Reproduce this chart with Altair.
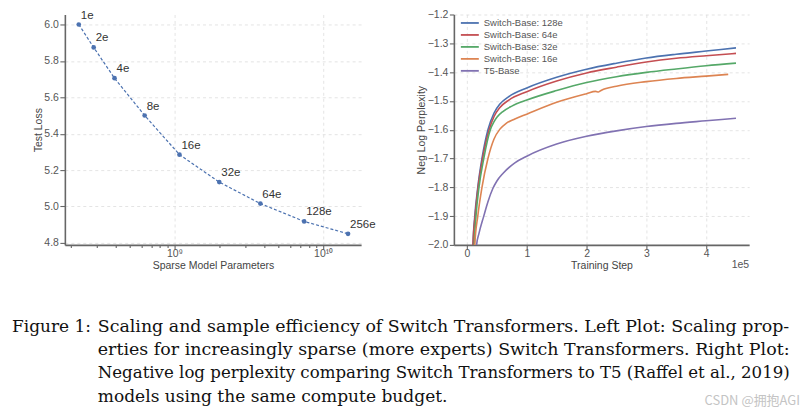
import altair as alt
import pandas as pd

# ---------------- Left plot data ----------------
experts = ["1e", "2e", "4e", "8e", "16e", "32e", "64e", "128e", "256e"]
params = [2.27e8, 2.86e8, 3.95e8, 6.3e8, 1.08e9, 2.0e9, 3.78e9, 7.45e9, 1.47e10]
test_loss = [6.0, 5.874, 5.705, 5.50, 5.285, 5.134, 5.016, 4.918, 4.85]
left_x_ticks = [2e8, 3e8, 4e8, 5e8, 6e8, 7e8, 8e8, 9e8, 1e9,
                2e9, 3e9, 4e9, 5e9, 6e9, 7e9, 8e9, 9e9, 1e10]
left_y_ticks = [4.8, 5.0, 5.2, 5.4, 5.6, 5.8, 6.0]

# ---------------- Right plot data (steps in units of 1e5) ----------------
series_names = ["Switch-Base: 128e", "Switch-Base: 64e", "Switch-Base: 32e",
                "Switch-Base: 16e", "T5-Base"]
series_colors = ["#4C72B0", "#C44E52", "#55A868", "#DD8452", "#8172B2"]

steps_128 = [0.09, 0.10, 0.13, 0.18, 0.25, 0.35, 0.45, 0.55, 0.7, 1.0, 1.5, 2.0, 2.5, 3.0, 3.5, 4.0, 4.5]
vals_128 = [-2.1, -2.0, -1.9, -1.8, -1.7, -1.6, -1.543, -1.511, -1.485, -1.455, -1.418, -1.39, -1.369, -1.351, -1.338, -1.327, -1.316]
steps_64 = [0.09, 0.10, 0.135, 0.185, 0.26, 0.37, 0.45, 0.55, 0.7, 1.0, 1.5, 2.0, 2.5, 3.0, 3.5, 4.0, 4.5]
vals_64 = [-2.1, -2.0, -1.9, -1.8, -1.7, -1.6, -1.555, -1.523, -1.497, -1.468, -1.431, -1.403, -1.383, -1.365, -1.352, -1.343, -1.335]
steps_32 = [0.105, 0.12, 0.15, 0.2, 0.28, 0.39, 0.45, 0.5, 0.6, 0.75, 1.0, 1.5, 2.0, 2.5, 3.0, 3.5, 4.0, 4.5]
vals_32 = [-2.1, -2.0, -1.9, -1.8, -1.7, -1.6, -1.573, -1.557, -1.537, -1.518, -1.497, -1.464, -1.436, -1.416, -1.401, -1.389, -1.378, -1.369]
steps_16 = [0.12, 0.13, 0.18, 0.25, 0.35, 0.45, 0.55, 0.65, 0.8, 1.0, 1.5, 2.0, 2.15, 2.2, 2.25, 2.5, 3.0, 3.5, 4.0, 4.37]
vals_16 = [-2.1, -2.0, -1.9, -1.8, -1.7, -1.633, -1.598, -1.579, -1.563, -1.546, -1.505, -1.475, -1.467, -1.469, -1.463, -1.449, -1.433, -1.422, -1.414, -1.408]
steps_t5 = [0.15, 0.16, 0.2, 0.28, 0.35, 0.43, 0.5, 0.6, 0.8, 1.0, 1.5, 2.0, 2.5, 3.0, 3.5, 4.0, 4.5]
vals_t5 = [-2.1, -2.0, -1.96, -1.9, -1.85, -1.805, -1.778, -1.752, -1.715, -1.692, -1.65, -1.623, -1.604, -1.589, -1.578, -1.569, -1.56]
right_x_ticks = [0, 1, 2, 3, 4]
right_y_ticks = [-2.0, -1.9, -1.8, -1.7, -1.6, -1.5, -1.4, -1.3, -1.2]

caption_label = "Figure 1:"
caption_lines = [
    "Scaling and sample efficiency of Switch Transformers. Left Plot: Scaling prop-",
    "erties for increasingly sparse (more experts) Switch Transformers. Right Plot:",
    "Negative log perplexity comparing Switch Transformers to T5 (Raffel et al., 2019)",
    "models using the same compute budget.",
]
watermark = "CSDN @拥抱AGI"

# styles (kept apart from data)
FONT = "Liberation Sans"
SERIF = "DejaVu Serif"
BLUE = "#4C72B0"
caption_sizes = [17.45, 17.5, 16.65, 17.1]   # per-line size to mimic justified width
caption_line_h = 23.4

# ---------------- Left chart ----------------
left_df = pd.DataFrame({"experts": experts, "params": params, "loss": test_loss})

is_decade = "abs(log(datum.value)/LN10 - round(log(datum.value)/LN10)) < 1e-6"
xl = alt.X(
    "params:Q",
    scale=alt.Scale(type="log", domain=[1.83e8, 1.8e10], nice=False),
    axis=alt.Axis(
        values=left_x_ticks,
        title="Sparse Model Parameters",
        labelExpr=("round(log(datum.value)/LN10) == 9 && " + is_decade + " ? '10⁹' : "
                   "(round(log(datum.value)/LN10) == 10 && " + is_decade + " ? '10¹⁰' : '')"),
        gridOpacity={"condition": {"test": is_decade, "value": 1}, "value": 0},
        tickSize={"condition": {"test": is_decade, "value": 4}, "value": 2.5},
        labelPadding=0, titlePadding=1,
    ),
)
yl = alt.Y(
    "loss:Q",
    scale=alt.Scale(domain=[4.789, 6.055], nice=False, zero=False),
    axis=alt.Axis(values=left_y_ticks, format=".1f", title="Test Loss", titlePadding=0),
)

left_line = alt.Chart(left_df).mark_line(
    color=BLUE, strokeDash=[3, 2], strokeWidth=1.2
).encode(x=xl, y=yl)
left_pts = alt.Chart(left_df).mark_circle(color=BLUE, size=22, opacity=1).encode(x=xl, y=yl)
left_lbl = alt.Chart(left_df).mark_text(
    align="left", baseline="alphabetic", dx=2, dy=-6, fontSize=11.5, font=FONT, color="#333333"
).encode(x=xl, y=yl, text="experts:N")

cap_df = pd.DataFrame({"label": [caption_label]})
fig_lbl = alt.Chart(cap_df).mark_text(
    align="left", baseline="alphabetic", font=SERIF, fontSize=17, color="#111111"
).encode(x=alt.value(-53), y=alt.value(318), text="label:N")
cap_layers = []
for i, (line, fs) in enumerate(zip(caption_lines, caption_sizes)):
    cap_layers.append(
        alt.Chart(pd.DataFrame({"t": [line]})).mark_text(
            align="left", baseline="alphabetic", font=SERIF, fontSize=fs, color="#111111"
        ).encode(x=alt.value(33), y=alt.value(318 + i * caption_line_h), text="t:N")
    )
anchor = alt.Chart(cap_df).mark_point(size=1, opacity=0).encode(
    x=alt.value(0), y=alt.value(-5.5)
)

left = alt.layer(left_line, left_pts, left_lbl, fig_lbl, *cap_layers, anchor).properties(
    width=297, height=231
)

# ---------------- Right chart ----------------
rows = []
for name, st, vs in zip(series_names,
                        [steps_128, steps_64, steps_32, steps_16, steps_t5],
                        [vals_128, vals_64, vals_32, vals_16, vals_t5]):
    for s, v in zip(st, vs):
        rows.append({"series": name, "step": s, "val": v})
right_df = pd.DataFrame(rows)

xr = alt.X(
    "step:Q",
    scale=alt.Scale(domain=[-0.22, 4.72], nice=False, zero=False),
    axis=alt.Axis(values=right_x_ticks, format="d", title="Training Step", tickSize=4,
                  labelPadding=0, titlePadding=1),
)
yr = alt.Y(
    "val:Q",
    scale=alt.Scale(domain=[-2.0, -1.2], nice=False, zero=False),
    axis=alt.Axis(values=right_y_ticks, format=".1f", title="Neg Log Perplexity", tickSize=4.5,
                  titlePadding=1),
)
right_lines = alt.Chart(right_df).mark_line(strokeWidth=1.6, clip=True, interpolate="monotone").encode(
    x=xr, y=yr,
    color=alt.Color(
        "series:N",
        scale=alt.Scale(domain=series_names, range=series_colors),
        sort=series_names,
        legend=alt.Legend(
            title=None, orient="none", legendX=396, legendY=3, padding=0,
            symbolType="M-1,0H3", symbolSize=81, symbolStrokeWidth=1.8,
            labelFont=FONT, labelFontSize=9.5, labelColor="#555555",
            labelOffset=13, rowPadding=2,
        ),
    ),
    detail="series:N",
)
exp_lbl = alt.Chart(pd.DataFrame({"t": ["1e5"]})).mark_text(
    align="right", baseline="alphabetic", font=FONT, fontSize=10.5, color="#555555"
).encode(x=alt.value(296), y=alt.value(254), text="t:N")
wm = alt.Chart(pd.DataFrame({"t": [watermark]})).mark_text(
    align="right", baseline="alphabetic", font="Noto Sans CJK SC", fontSize=13, color="#c4c4c4"
).encode(x=alt.value(347), y=alt.value(391), text="t:N")

right = alt.layer(right_lines, exp_lbl, wm).properties(width=296, height=231)

chart = alt.hconcat(left, right, spacing=93, bounds="flush").properties(
    padding={"left": 4, "top": 0, "right": 2, "bottom": 2}
).configure_view(strokeWidth=0).configure_axis(
    labelFont=FONT, titleFont=FONT, labelFontSize=10.5, titleFontSize=10.5,
    labelColor="#555555", titleColor="#444444", titleFontWeight="normal",
    domainColor="#666666", domainWidth=1.6, tickColor="#666666", tickWidth=1.1,
    gridColor="#dddddd", gridDash=[3, 3], gridWidth=0.8,
    labelPadding=1.5, titlePadding=3,
)

chart.save("out.html", embed_options={"renderer": "svg", "actions": False})
